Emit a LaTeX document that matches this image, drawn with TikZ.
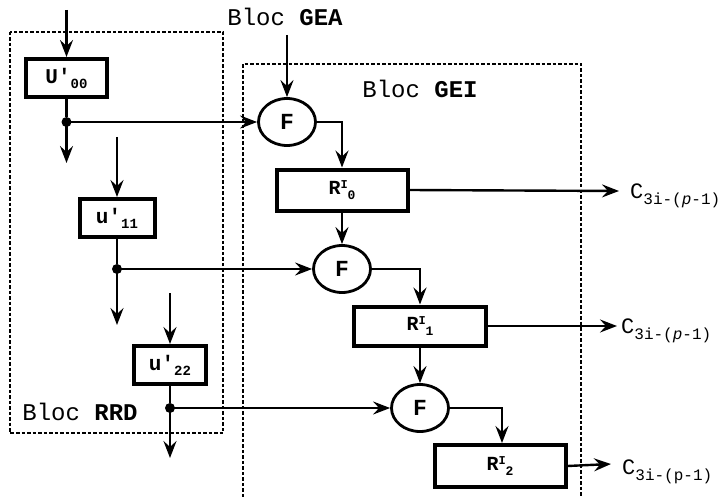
\documentclass[tikz,border=0pt]{standalone}
\usepackage{fontspec}
\setmainfont{Liberation Mono}
\usetikzlibrary{arrows.meta,shapes.geometric}
\newcommand\ulbl[2]{{\fontsize{21}{24}\selectfont\bfseries #1′\raisebox{-5pt}{\fontsize{14}{16}\selectfont #2}}}
\newcommand\rlbl[1]{{\fontsize{20}{23}\selectfont\bfseries R\raisebox{6pt}{\fontsize{12}{13}\selectfont I}\raisebox{-5pt}{\fontsize{13}{14}\selectfont #1}}}
\newcommand\clbl[1]{{\fontsize{22}{26}\selectfont C\raisebox{-6pt}{\fontsize{16}{19}\selectfont 3i-(#1-1)}}}
\begin{document}
\begin{tikzpicture}[x=1pt,y=-1pt,
  blk/.style={draw,line width=4pt,inner sep=0pt,minimum width=#1,minimum height=38pt},
  fbox/.style={draw,ellipse,line width=2.8pt,inner sep=0pt,minimum width=57pt,minimum height=47pt,font=\fontsize{23}{26}\selectfont\bfseries},
  arr/.style={line width=2.4pt,-{Stealth[length=17pt,width=13pt,inset=6pt]}},
  wire/.style={line width=2.4pt},
  grp/.style={line width=1.6pt,dash pattern=on 3.5pt off 2pt},
  dot/.style={circle,fill,inner sep=0pt,minimum size=10pt},
  ttl/.style={font=\fontsize{24}{28}\selectfont}]
\useasboundingbox (0,0) rectangle (727,497);
% group frames
\draw[grp] (10,32) rectangle (223,433);
\draw[grp] (243,497) -- (243,64) -- (581,64) -- (581,497);
\node[ttl] (gea) at (285,17) {Bloc \textbf{GEA}};
\node[ttl] (gei) at (420,89) {Bloc \textbf{GEI}};
\node[ttl] (rrd) at (80,412) {Bloc \textbf{RRD}};
% RRD blocks
\node[blk=81pt] (u0) at (66.5,78) {\ulbl{U}{00}};
\node[blk=75pt] (u1) at (117,218) {\ulbl{u}{11}};
\node[blk=72pt] (u2) at (170,365) {\ulbl{u}{22}};
\coordinate (i0) at (66.5,10);
\coordinate (i1) at (117,137);
\coordinate (i2) at (170,293);
\node[dot] (j0) at (66.5,122) {};
\node[dot] (j1) at (117,269) {};
\node[dot] (j2) at (170,408) {};
\coordinate (d0) at (66.5,163);
\coordinate (d1) at (117,325);
\coordinate (d2) at (170,458);
% GEI blocks
\coordinate (ig) at (287,35);
\node[fbox] (f1) at (287,122) {F};
\node[fbox] (f2) at (342,269) {F};
\node[fbox] (f3) at (420,408) {F};
\node[blk=131pt,minimum height=41pt] (r0) at (342,190) {\rlbl{0}};
\node[blk=132pt,minimum height=39pt] (r1) at (420,326) {\rlbl{1}};
\node[blk=131pt,minimum height=42pt] (r2) at (500,466) {\rlbl{2}};
\coordinate (o0) at (619,191);
\coordinate (o1) at (617,326);
\coordinate (o2) at (611,464);
\node[anchor=base west,inner sep=0pt] (c0) at (630,198) {\clbl{\textit{p}}};
\node[anchor=base west,inner sep=0pt] (c1) at (621,333) {\clbl{\textit{p}}};
\node[anchor=base west,inner sep=0pt] (c2) at (622,474) {\clbl{p}};
% connectors
\draw[arr] (i0) -- (u0.north);
\draw[wire] (u0.south) -- (j0);
\draw[arr] (j0.center) -- (d0);
\draw[arr] (j0.center) -- (f1.west);
\draw[arr] (i1) -- (u1.north);
\draw[wire] (u1.south) -- (j1);
\draw[arr] (j1.center) -- (d1);
\draw[arr] (j1.center) -- (f2.west);
\draw[arr] (i2) -- (u2.north);
\draw[wire] (u2.south) -- (j2);
\draw[arr] (j2.center) -- (d2);
\draw[arr] (j2.center) -- (f3.west);
\draw[arr] (ig) -- (f1.north);
\draw[arr] (f1.east) -| (r0.north);
\draw[arr] (r0.south) -- (f2.north);
\draw[arr] (f2.east) -| (r1.north);
\draw[arr] (r1.south) -- (f3.north);
\draw[arr] (f3.east) -| ([xshift=2pt]r2.north);
\draw[arr] (r0.east) -- (o0);
\draw[arr] (r1.east) -- (o1);
\draw[arr] (r2.east) -- (o2);
\end{tikzpicture}
\end{document}
